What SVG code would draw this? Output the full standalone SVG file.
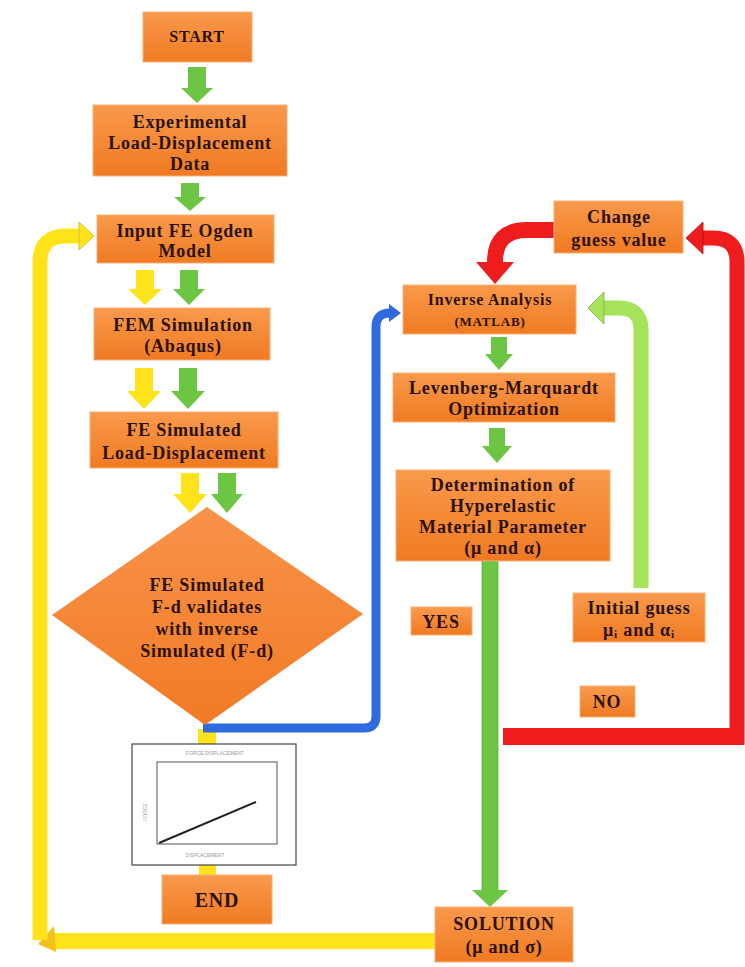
<svg xmlns="http://www.w3.org/2000/svg" width="745" height="967" viewBox="0 0 745 967">
<defs>
<linearGradient id="og" x1="0" y1="0" x2="0" y2="1">
<stop offset="0" stop-color="#F99A4C"/>
<stop offset="1" stop-color="#F07A22"/>
</linearGradient>
<linearGradient id="dg" x1="0" y1="0" x2="0" y2="1">
<stop offset="0" stop-color="#F8934A"/>
<stop offset="1" stop-color="#F27A25"/>
</linearGradient>
<style>
.box{fill:url(#og);stroke:#F3B27A;stroke-width:1}
.t{font-family:"Liberation Serif","Times New Roman",serif;font-weight:bold;font-size:18px;letter-spacing:0.8px;fill:#2A1208;text-anchor:middle}
.g{fill:#6CC644}
.y{fill:#FFE31A}
.ct{font-family:"Liberation Sans",Arial,sans-serif;font-size:5px;fill:#999;text-anchor:middle}
</style>
</defs>
<rect width="745" height="967" fill="#ffffff"/>

<g id="connectors">
<polygon class="g" points="188,67 206,67 206,88 213,88 197,103 181,88 188,88"/>
<polygon class="g" points="181,183 199,183 199,197 206,197 190,211 174,197 181,197"/>
<polygon class="y" points="136,270 154,270 154,289 162,289 145,305 128,289 136,289"/>
<polygon class="g" points="180,270 198,270 198,289 205,289 189,305 173,289 180,289"/>
<polygon class="y" points="135,368 153,368 153,391 161,391 144,409 127,391 135,391"/>
<polygon class="g" points="179,368 197,368 197,391 205,391 188,409 171,391 179,391"/>
<polygon class="y" points="181,473 199,473 199,494 207,494 190,513 173,494 181,494"/>
<polygon class="g" points="218,473 236,473 236,494 243,494 227,513 211,494 218,494"/>
<polygon class="g" points="491,337 507,337 507,354 513,354 499,370 485,354 491,354"/>
<polygon class="g" points="489,428 505,428 505,446 512,446 497,463 482,446 489,446"/>

<rect class="y" x="198" y="729" width="18" height="15"/>
<rect class="y" x="199" y="865" width="17" height="11"/>

<path d="M436 941 H52" fill="none" stroke="#FFE31A" stroke-width="16"/>
<polygon points="54,926 38,944 56,952" fill="#F2C21A"/>
<path d="M40 940 V262 Q40 236 66 236 H80" fill="none" stroke="#FFE31A" stroke-width="15"/>
<polygon points="79,222 94,236 79,250" fill="#FFE31A" stroke="#D8C030" stroke-width="1"/>

<path d="M203 728 H364 Q376 728 376 716 V327 Q376 313 390 313" fill="none" stroke="#2F6AE0" stroke-width="9"/>
<polygon points="389,304 401,313 389,322" fill="#2F6AE0"/>

<rect x="482" y="561" width="16" height="330" fill="#6CC644" stroke="#4E9A30" stroke-width="0.6"/>
<polygon points="472,890 508,890 490,907" fill="#6CC644"/>

<path d="M641 588 V330 Q641 308 619 308 H603" fill="none" stroke="#A6E25A" stroke-width="15"/>
<polygon points="604,292 604,324 588,308" fill="#A6E25A" stroke="#7FB040" stroke-width="0.8"/>

<path d="M556 230 H527 Q495 230 495 262" fill="none" stroke="#EE1C1C" stroke-width="16"/>
<polygon points="476,262 514,262 495,284" fill="#EE1C1C"/>

<path d="M503 737 H737 V262 Q737 238 713 238 H702" fill="none" stroke="#EE1C1C" stroke-width="15"/>
<rect x="503" y="728" width="241" height="17" fill="#EE1C1C"/>
<polygon points="703,222 703,254 686,238" fill="#EE1C1C" stroke="#B01010" stroke-width="0.8"/>
</g>

<g id="start"><rect class="box" x="143" y="12" width="109" height="50"/><text class="t" x="197" y="42" style="font-size:16px">START</text></g>

<g id="experimental"><rect class="box" x="93" y="105" width="194" height="71"/>
<text class="t" x="190" y="128">Experimental</text><text class="t" x="190" y="149">Load-Displacement</text><text class="t" x="190" y="170">Data</text></g>

<g id="input"><rect class="box" x="97" y="215" width="177" height="48"/>
<text class="t" x="185" y="237">Input FE Ogden</text><text class="t" x="185" y="257">Model</text></g>

<g id="fem"><rect class="box" x="94" y="308" width="176" height="52"/>
<text class="t" x="183" y="331">FEM Simulation</text><text class="t" x="183" y="352">(Abaqus)</text></g>

<g id="fesim"><rect class="box" x="90" y="412" width="188" height="56"/>
<text class="t" x="184" y="436">FE Simulated</text><text class="t" x="184" y="459">Load-Displacement</text></g>

<g id="decision"><polygon points="207,507 363,614 205,725 52,615" fill="url(#dg)"/>
<text class="t" x="207" y="591">FE Simulated</text><text class="t" x="207" y="613">F-d validates</text><text class="t" x="207" y="635">with inverse</text><text class="t" x="207" y="657">Simulated (F-d)</text></g>

<g id="chart"><rect x="132" y="744" width="164" height="121" fill="#fff" stroke="#444" stroke-width="1.2"/>
<rect x="157" y="762" width="120" height="82" fill="#fff" stroke="#555" stroke-width="1"/>
<line x1="159" y1="843" x2="256" y2="802" stroke="#222" stroke-width="2"/>
<text class="ct" x="215" y="755">FORCE DISPLACEMENT</text>
<text class="ct" x="205" y="857">DISPLACEMENT</text>
<text class="ct" x="0" y="0" transform="translate(147,812) rotate(-90)">FORCE</text></g>

<g id="end"><rect class="box" x="162" y="875" width="110" height="49"/><text class="t" x="217" y="907" style="font-size:20px">END</text></g>

<g id="change"><rect class="box" x="554" y="201" width="129" height="52"/>
<text class="t" x="619" y="223">Change</text><text class="t" x="619" y="246">guess value</text></g>

<g id="inverse"><rect class="box" x="403" y="285" width="173" height="49"/>
<text class="t" x="490" y="305" style="font-size:16px">Inverse Analysis</text><text class="t" x="490" y="326" style="font-size:13px">(MATLAB)</text></g>

<g id="lm"><rect class="box" x="393" y="373" width="222" height="49"/>
<text class="t" x="504" y="394">Levenberg-Marquardt</text><text class="t" x="504" y="415">Optimization</text></g>

<g id="determination"><rect class="box" x="396" y="470" width="214" height="91"/>
<text class="t" x="503" y="491">Determination of</text><text class="t" x="503" y="512">Hyperelastic</text><text class="t" x="503" y="533">Material Parameter</text><text class="t" x="503" y="554">(μ and α)</text></g>

<g id="initial"><rect class="box" x="573" y="593" width="132" height="49"/>
<text class="t" x="639" y="614">Initial guess</text><text class="t" x="639" y="636">μᵢ and αᵢ</text></g>

<g id="yes"><rect class="box" x="411" y="607" width="61" height="28"/><text class="t" x="441" y="628">YES</text></g>

<g id="no"><rect class="box" x="580" y="686" width="55" height="31"/><text class="t" x="607" y="708">NO</text></g>

<g id="solution"><rect class="box" x="435" y="907" width="138" height="55"/>
<text class="t" x="504" y="930">SOLUTION</text><text class="t" x="504" y="953">(μ and σ)</text></g>
</svg>
